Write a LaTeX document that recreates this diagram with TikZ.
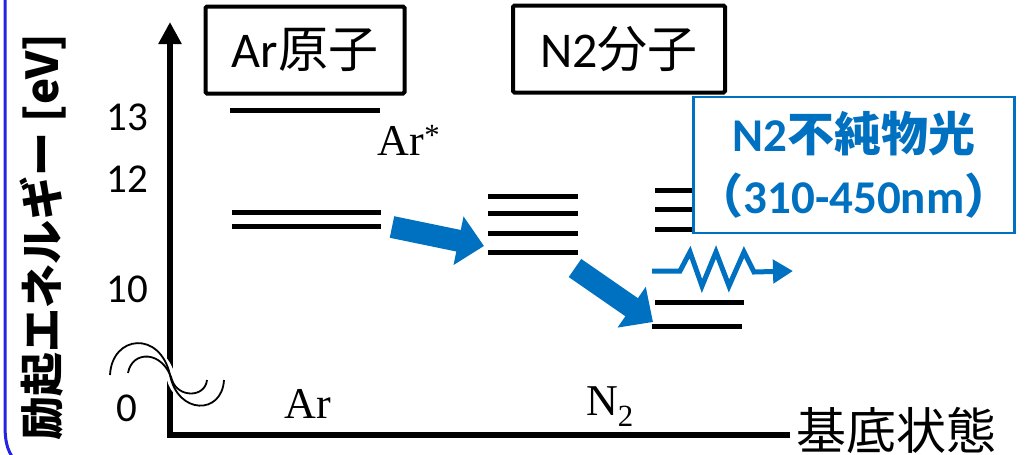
\documentclass[tikz,border=0pt]{standalone}
\usepackage{fontspec}
\setmainfont{Carlito}
\newfontfamily\cjk{Noto Sans CJK JP}
\newfontfamily\rmser{Liberation Serif}
\usetikzlibrary{arrows.meta, positioning}
\definecolor{impblue}{RGB}{0,112,192}
\definecolor{frameblue}{RGB}{35,35,225}

\begin{document}
\begin{tikzpicture}[x=1pt,y=-1pt,
  level/.style={line width=5pt},
  title/.style={draw, line width=4pt, rounded corners=1.5pt, minimum height=87pt, inner sep=0pt, font=\fontsize{50}{54}\selectfont},
  tick/.style={anchor=base, font=\fontsize{41}{44}\selectfont},
  species/.style={anchor=base, font=\rmser\fontsize{44}{48}\selectfont},
  transfer/.style={impblue, line width=22pt, -{Triangle[width=48pt,length=26pt]}},
  breakline/.style={line width=1.8pt}]
\useasboundingbox (0,0) rectangle (1026,455);
\draw[frameblue, line width=3pt] (5,-5) -- (5,425) .. controls (5,446) and (9,453) .. (16,462);
\node (ylabel) at (43,237) [rotate=90, font=\cjk\bfseries\fontsize{44}{48}\selectfont] {励起エネルギー [eV]};
% axes
\coordinate (O) at (170,435);
\coordinate (ytip) at (170,22);
\coordinate (xend) at (790,435);
\draw[line width=6pt, {Triangle[width=22pt,length=22pt]}-] (ytip) -- (O) -- (xend);
\node (ground) [right=6pt of xend, yshift=5pt, inner sep=0pt, font=\cjk\fontsize{50}{54}\selectfont] {基底状態};
% axis break
\draw[white, line width=9pt] (119,374) .. controls (122,343) and (162,340) .. (171,378) .. controls (178,406) and (214,406) .. (215,380);
\draw[breakline] (110,375) .. controls (112,335) and (160,330) .. (170,375) .. controls (178,415) and (222,415) .. (224,380);
\draw[breakline] (128,373) .. controls (132,350) and (163,350) .. (172,380) .. controls (178,398) and (205,398) .. (207,380);
\node (t13) at (127,130) [tick] {13};
\node (t12) at (127,192) [tick] {12};
\node (t10) at (127,302) [tick] {10};
\node (t0) at (127,421) [tick] {0};
\node (artitle) at (305,50) [title, minimum width=199pt] {Ar{\cjk 原子}};
\node (ntitle) at (619,49) [title, minimum width=212pt] {N2{\cjk 分子}};
% Ar levels
\draw[level] (230,110) -- (380,110);
\draw[level] (232,212) -- (381,212);
\draw[level] (232,226) -- (381,226);
\node (arstar) at (409,155) [species] {Ar\textsuperscript{*}};
\node (arground) at (308,418) [species] {Ar};
% N2 levels
\draw[level] (488,196) -- (578,196);
\draw[level] (488,213) -- (578,213);
\draw[level] (488,233) -- (578,233);
\draw[level] (488,252) -- (578,252);
\draw[level] (655,190) -- (745,190);
\draw[level] (655,209) -- (745,209);
\draw[level] (655,229) -- (745,229);
\draw[level] (655,302) -- (744,302);
\draw[level] (652,326) -- (742,326);
\node (nground) at (610,415) [species] {N\textsubscript{2}};
% energy transfer
\coordinate (arout) at (392,227);
\coordinate (nin) at (484,246);
\coordinate (nout) at (575,268);
\coordinate (nlow) at (653,322);
\draw[transfer] (arout) -- (nin);
\draw[transfer] (nout) -- (nlow);
\node (impurity) at (854,165) [draw=impblue, line width=2.5pt, fill=white, minimum width=315pt, minimum height=136pt, text=impblue, align=center, font=\bfseries\fontsize{47}{62}\selectfont] {N2{\cjk 不純物光}\\{\cjk （}310-450nm{\cjk ）}};
% emission
\coordinate (phstart) at (652,271);
\coordinate (phend) at (793,271);
\draw[impblue, line width=5pt, -{Triangle[width=23pt,length=20pt]}] (phstart) -- ++(28,0) -- ++(10,-19) -- ++(12,34) -- ++(14,-34) -- ++(13,34) -- ++(15,-34) -- ++(10,20) -- (phend);
\end{tikzpicture}
\end{document}
